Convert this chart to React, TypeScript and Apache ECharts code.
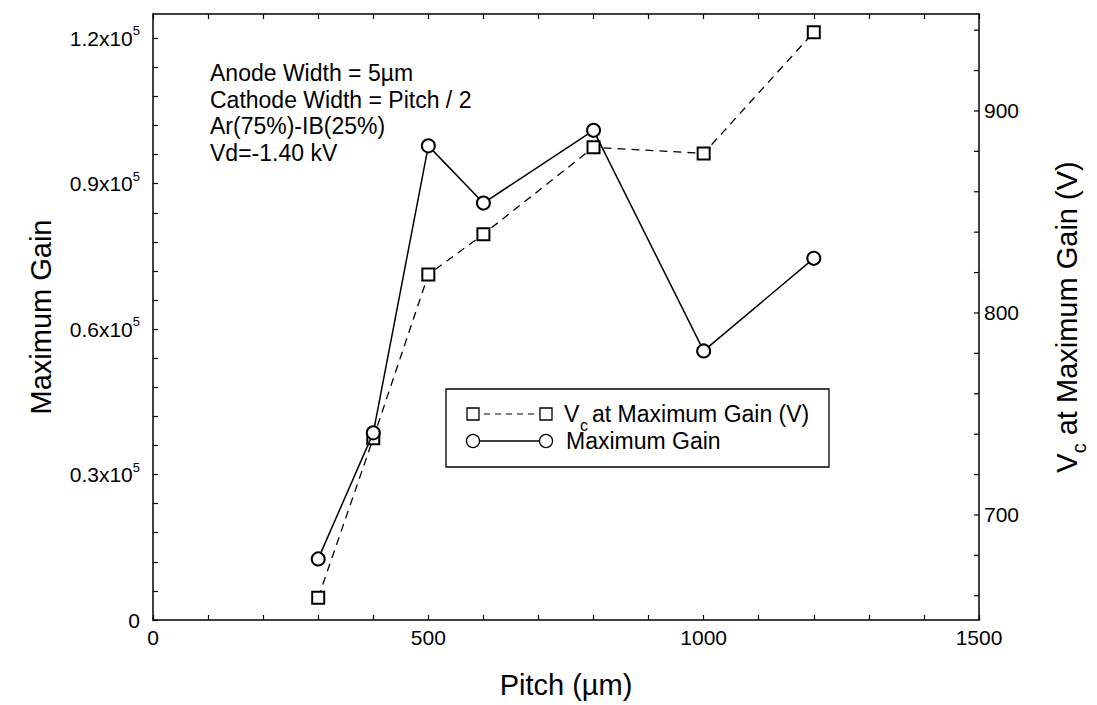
import React, { useEffect, useRef } from 'react';
import * as echarts from 'echarts';

const pitch = [300, 400, 500, 600, 800, 1000, 1200];
const maxGain = [12600, 38600, 97800, 86000, 101000, 55500, 74600];
const vcAtMaxGain = [659, 738, 819, 839, 882, 879, 939];

const xLabels = [0, 500, 1000, 1500];
const gainLabels = [0, 30000, 60000, 90000, 120000];
const vcTicks = [660, 680, 700, 720, 740, 760, 780, 800, 820, 840, 860, 880, 900, 920, 940];
const vcLabels = [700, 800, 900];

const annotations = ['Anode Width = 5\u00b5m', 'Cathode Width = Pitch / 2', 'Ar(75%)-IB(25%)', 'Vd=-1.40 kV'];
const seriesNames = ['at Maximum Gain (V)', 'Maximum Gain'];

const FONT = '"Liberation Sans", Arial, Helvetica, sans-serif';

export default function App() {
  const ref = useRef<HTMLDivElement>(null);
  useEffect(() => {
    if (!ref.current) return;
    const chart = echarts.init(ref.current, undefined, { renderer: 'svg' });
    const axisLine = { show: true, onZero: false, lineStyle: { color: '#000', width: 1.5 } };
    const tickStyle = { color: '#000', width: 1.2 };
    const option: any = {
      animation: false,
      backgroundColor: '#fff',
      textStyle: { fontFamily: FONT, color: '#000' },
      grid: { left: 153, right: 112, top: 14, bottom: 85 },
      xAxis: [
        {
          type: 'value', min: 0, max: 1500, interval: 100, position: 'bottom',
          name: 'Pitch (\u00b5m)', nameLocation: 'middle', nameGap: 50,
          nameTextStyle: { fontSize: 29, fontFamily: FONT, color: '#000' },
          axisLine,
          axisTick: { show: true, inside: true, length: 5, lineStyle: tickStyle },
          axisLabel: {
            show: true, fontSize: 21, fontFamily: FONT, color: '#000', margin: 7,
            showMinLabel: true, showMaxLabel: true,
            formatter: (v: number) => (xLabels.includes(v) ? String(v) : ''),
          },
          splitLine: { show: false },
        },
        {
          type: 'value', min: 0, max: 1500, interval: 100, position: 'top',
          axisLine,
          axisTick: { show: true, inside: true, length: 5, lineStyle: tickStyle },
          axisLabel: { show: false },
          splitLine: { show: false },
        },
      ],
      yAxis: [
        {
          type: 'value', min: 0, max: 125000, interval: 6000, position: 'left',
          name: 'Maximum Gain', nameLocation: 'middle', nameGap: 98, nameRotate: 90,
          nameTextStyle: { fontSize: 29, fontFamily: FONT, color: '#000' },
          axisLine,
          axisTick: { show: true, inside: true, length: 5, lineStyle: tickStyle },
          axisLabel: {
            show: true, margin: 13, showMinLabel: true, showMaxLabel: false,
            formatter: (v: number) =>
              !gainLabels.includes(v) ? '' : v === 0 ? '{m|0}' : `{m|${(v / 100000).toFixed(1)}x10}{s|5}`,
            rich: {
              m: { fontSize: 21, fontFamily: FONT, color: '#000', lineHeight: 28 },
              s: { fontSize: 13, fontFamily: FONT, color: '#000', lineHeight: 13, verticalAlign: 'top' },
            },
          },
          splitLine: { show: false },
        },
        {
          type: 'value', min: 648, max: 948, position: 'right',
          name: '{v|V}{c|c}{v| at Maximum Gain (V)}', nameLocation: 'middle', nameGap: 66, nameRotate: 90,
          nameTextStyle: {
            fontFamily: FONT, color: '#000',
            rich: {
              v: { fontSize: 29, fontFamily: FONT, color: '#000', lineHeight: 44 },
              c: { fontSize: 20, fontFamily: FONT, color: '#000', lineHeight: 16, verticalAlign: 'bottom' },
            },
          },
          axisLine,
          axisTick: { show: false },
          axisLabel: { show: true, fontSize: 21, fontFamily: FONT, color: '#000', margin: 5, customValues: vcLabels },
          splitLine: { show: false },
        },
      ],
      series: [
        {
          name: 'Vc ' + seriesNames[0], type: 'line', xAxisIndex: 0, yAxisIndex: 1,
          data: pitch.map((p, i) => [p, vcAtMaxGain[i]]),
          symbol: 'emptyRect', symbolSize: 12,
          lineStyle: { color: '#000', width: 1.3, type: [8, 6] },
          itemStyle: { color: '#000', borderColor: '#000', borderWidth: 1.3 },
          z: 2,
        },
        {
          name: seriesNames[1], type: 'line', xAxisIndex: 0, yAxisIndex: 0,
          data: pitch.map((p, i) => [p, maxGain[i]]),
          symbol: 'emptyCircle', symbolSize: 13,
          lineStyle: { color: '#000', width: 1.5 },
          itemStyle: { color: '#000', borderColor: '#000', borderWidth: 1.3 },
          z: 3,
        },
        {
          name: 'rightTicks', type: 'custom', xAxisIndex: 0, yAxisIndex: 1,
          data: vcTicks.map((v) => [1500, v]),
          silent: true,
          renderItem: (params: any, api: any) => {
            const p = api.coord([api.value(0), api.value(1)]);
            return {
              type: 'line',
              shape: { x1: p[0] - 5, y1: p[1], x2: p[0], y2: p[1] },
              style: { stroke: '#000', lineWidth: 1.2 },
            };
          },
          z: 4,
        },
      ],
      graphic: [
        ...annotations.map((t, i) => ({
          type: 'text', x: 210, y: 73 + i * 26.5, z: 10,
          style: { text: t, fontSize: 23, fontFamily: FONT, fill: '#000', verticalAlign: 'middle', align: 'left' },
        })),
        {
          type: 'group', z: 20,
          children: [
            { type: 'rect', shape: { x: 446, y: 389, width: 383, height: 78 }, style: { fill: '#fff', stroke: '#000', lineWidth: 1.3 } },
            { type: 'line', shape: { x1: 473, y1: 414, x2: 546, y2: 414 }, style: { stroke: '#000', lineWidth: 1.2, lineDash: [6, 5] } },
            { type: 'rect', shape: { x: 467, y: 408, width: 12, height: 12 }, style: { fill: '#fff', stroke: '#000', lineWidth: 1.3 } },
            { type: 'rect', shape: { x: 540, y: 408, width: 12, height: 12 }, style: { fill: '#fff', stroke: '#000', lineWidth: 1.3 } },
            { type: 'line', shape: { x1: 473, y1: 441, x2: 546, y2: 441 }, style: { stroke: '#000', lineWidth: 1.4 } },
            { type: 'circle', shape: { cx: 473, cy: 441, r: 6.5 }, style: { fill: '#fff', stroke: '#000', lineWidth: 1.3 } },
            { type: 'circle', shape: { cx: 546, cy: 441, r: 6.5 }, style: { fill: '#fff', stroke: '#000', lineWidth: 1.3 } },
            { type: 'text', x: 564, y: 414, style: { text: 'V', fontSize: 23, fontFamily: FONT, fill: '#000', verticalAlign: 'middle' } },
            { type: 'text', x: 580, y: 425, style: { text: 'c', fontSize: 16, fontFamily: FONT, fill: '#000', verticalAlign: 'middle' } },
            { type: 'text', x: 592, y: 414, style: { text: seriesNames[0], fontSize: 23, fontFamily: FONT, fill: '#000', verticalAlign: 'middle' } },
            { type: 'text', x: 566, y: 441, style: { text: seriesNames[1], fontSize: 23, fontFamily: FONT, fill: '#000', verticalAlign: 'middle' } },
          ],
        },
      ],
    };
    chart.setOption(option);
    return () => chart.dispose();
  }, []);
  return <div ref={ref} style={{ position: 'absolute', left: 0, top: 0, width: 1097, height: 705, background: '#fff' }} />;
}
